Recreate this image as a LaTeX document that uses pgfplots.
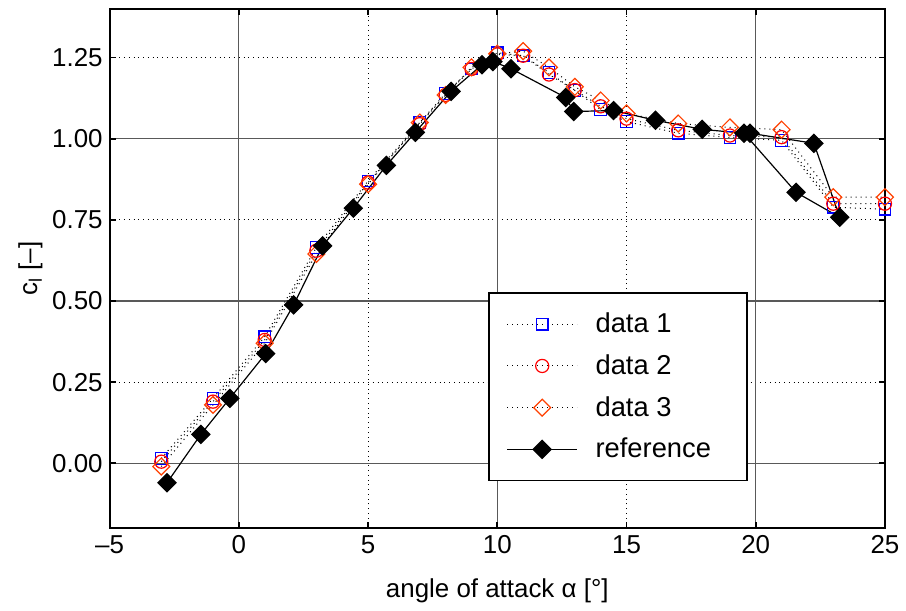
\documentclass[border=0pt]{standalone}
\usepackage{pgfplots}
\pgfplotsset{compat=1.18}
\usepackage{fontspec}
\setmainfont{Liberation Sans}

\definecolor{dblue}{RGB}{0,0,255}
\definecolor{dred}{RGB}{255,0,0}
\definecolor{dorange}{RGB}{255,64,0}

\begin{document}
\begin{tikzpicture}
\begin{axis}[
    scale only axis,
    width=389pt, height=260.5pt,
    xmin=-5, xmax=25, ymin=-0.2, ymax=1.4,
    axis line style={line width=1pt},
    tick style={black, line width=0.8pt},
    major tick length=3pt, minor tick length=3pt,
    tick align=inside,
    xtick={-5,0,5,10,15,20,25},
    xticklabels={--5,0,5,10,15,20,25},
    ytick={0,0.25,0.5,0.75,1,1.25},
    yticklabel style={/pgf/number format/.cd, fixed, fixed zerofill, precision=2},
    /pgf/number format/assume math mode=true,
    minor xtick={5,15}, minor ytick={0.25,0.75,1.25},
    xminorgrids, yminorgrids,
    minor grid style={black, dotted, line width=0.5pt},
    extra x ticks={0,10,20}, extra x tick labels={},
    extra y ticks={0,0.5,1}, extra y tick labels={},
    extra tick style={grid=major, major grid style={black!65, solid, line width=0.6pt}},
    ticklabel style={font=\fontsize{13}{15}\selectfont},
    label style={font=\fontsize{13}{15}\selectfont},
    xlabel={angle of attack α [°]},
    ylabel={c\textsubscript{l} [–]},
    xlabel style={yshift=-6pt},
    ylabel style={yshift=-2pt},
    legend style={at={(0.488,0.09)}, anchor=south west, draw=black, line width=0.8pt,
        font=\fontsize{13.7}{16}\selectfont, row sep=5.5pt, inner xsep=9pt, inner ysep=8pt,
        nodes={inner xsep=9pt}},
    legend cell align=left,
    legend image code/.code={%
        \draw[mark repeat=2, mark phase=2] plot coordinates {(0pt,0pt) (17.5pt,0pt) (35pt,0pt)};},
]
\addplot[black, dotted, line width=0.5pt, mark=square, mark size=2.9pt,
    mark options={solid, dblue, line width=0.6pt}] coordinates {
(-3,0.015) (-1,0.20) (1,0.39) (3,0.665) (5,0.87) (7,1.05) (8,1.14) (9,1.215)
(10,1.265) (11,1.256) (12,1.204) (13,1.149) (14,1.09) (15,1.053) (17,1.017)
(19,1.004) (21,0.995) (23,0.789) (25,0.783)
};
\addlegendentry{data 1}
\addplot[black, dotted, line width=0.5pt, mark=o, mark size=3.3pt,
    mark options={solid, dred, line width=0.6pt}] coordinates {
(-3,0.005) (-1,0.19) (1,0.38) (3,0.655) (5,0.865) (7,1.045) (8,1.135) (9,1.215)
(10,1.26) (11,1.256) (12,1.198) (13,1.15) (14,1.10) (15,1.062) (17,1.026)
(19,1.01) (21,1.005) (23,0.80) (25,0.80)
};
\addlegendentry{data 2}
\addplot[black, dotted, line width=0.5pt, mark=square, mark size=3.0pt,
    mark options={solid, dorange, line width=0.6pt, rotate=45}] coordinates {
(-3,-0.01) (-1,0.18) (1,0.37) (3,0.645) (5,0.86) (7,1.05) (8,1.135) (9,1.22)
(10,1.262) (11,1.27) (12,1.22) (13,1.16) (14,1.118) (15,1.078) (17,1.047)
(19,1.035) (21,1.028) (23,0.82) (25,0.82)
};
\addlegendentry{data 3}
\addplot[black, solid, line width=0.6pt, mark=square*, mark size=3.2pt,
    mark options={rotate=45}] coordinates {
(-2.78,-0.06) (-1.47,0.089) (-0.35,0.20) (1.04,0.338) (2.12,0.488) (3.24,0.67)
(4.43,0.786) (5.71,0.918) (6.83,1.02) (8.21,1.146) (9.41,1.228) (9.83,1.238)
(10.53,1.216) (12.65,1.127) (12.96,1.084) (14.5,1.087) (16.12,1.057) (17.93,1.029)
(19.55,1.017) (21.56,0.835) (23.25,0.758) (22.25,0.986) (19.78,1.017)
};
\addlegendentry{reference}
\end{axis}
\path ([xshift=-55pt,yshift=-41pt]current axis.south west) rectangle ([xshift=9pt,yshift=4.5pt]current axis.north east);
\end{tikzpicture}
\end{document}
